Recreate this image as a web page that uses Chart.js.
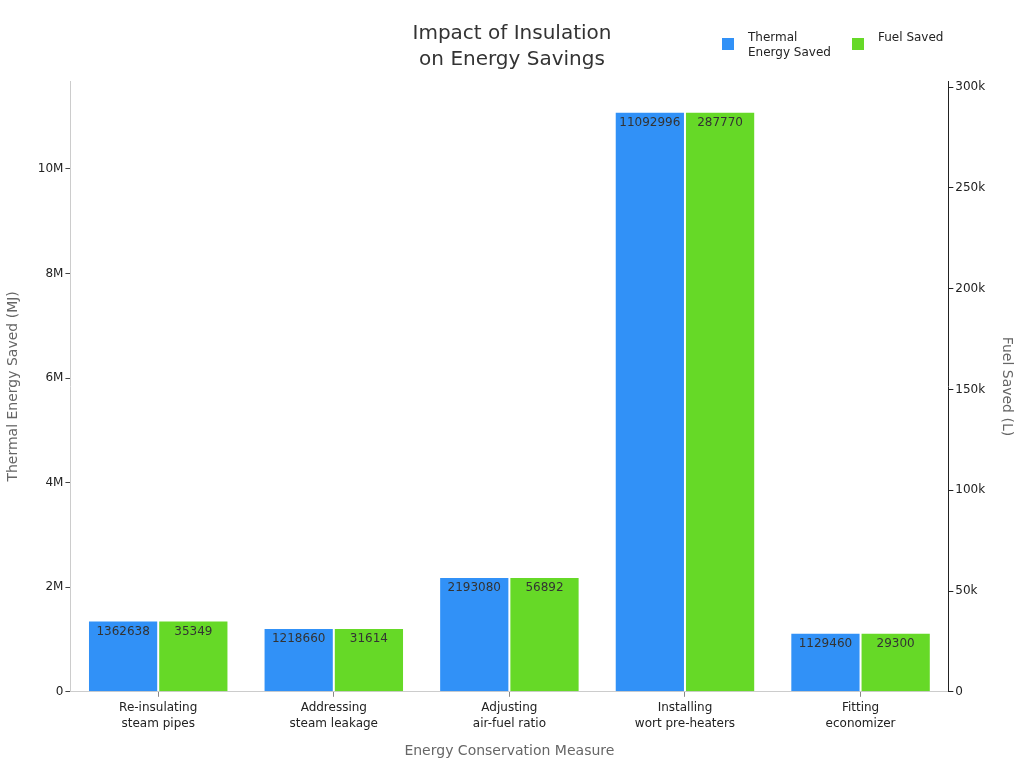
<!DOCTYPE html>
<html><head><meta charset="utf-8">
<script src="https://cdn.jsdelivr.net/npm/chart.js@4/dist/chart.umd.min.js"></script>
<style>html,body{margin:0;padding:0;background:#fff}#wrap{width:1024px;height:768px}</style>
</head><body><div id="wrap"><canvas id="c" width="1024" height="768"></canvas></div>
<script>
const categories = [["Re-insulating","steam pipes"],["Addressing","steam leakage"],["Adjusting","air-fuel ratio"],["Installing","wort pre-heaters"],["Fitting","economizer"]];
const thermalEnergySaved = [1362638, 1218660, 2193080, 11092996, 1129460];
const fuelSaved = [35349, 31614, 56892, 287770, 29300];
const leftTickValues = [0, 2000000, 4000000, 6000000, 8000000, 10000000];
const leftTickLabels = ["0", "2M", "4M", "6M", "8M", "10M"];
const rightTickValues = [0, 50000, 100000, 150000, 200000, 250000, 300000];
const rightTickLabels = ["0", "50k", "100k", "150k", "200k", "250k", "300k"];
const seriesNames = [["Thermal","Energy Saved"], ["Fuel Saved"]];
const seriesColors = ["#3191f7", "#66d927"];
const titleLines = ["Impact of Insulation", "on Energy Savings"];
const xTitle = "Energy Conservation Measure";
const yTitle = "Thermal Energy Saved (MJ)";
const y1Title = "Fuel Saved (L)";

const FONT = "'DejaVu Sans', sans-serif";

const labelPlugin = {
  id: 'valueLabels',
  afterDatasetsDraw(chart) {
    const ctx = chart.ctx;
    ctx.save();
    ctx.font = "12px " + FONT;
    ctx.fillStyle = "#333";
    ctx.textAlign = "center";
    ctx.textBaseline = "middle";
    chart.data.datasets.forEach((ds, di) => {
      const meta = chart.getDatasetMeta(di);
      meta.data.forEach((el, i) => {
        ctx.fillText(String(ds.data[i]), el.x, el.y + 11);
      });
    });
    ctx.restore();
  }
};

const headerPlugin = {
  id: 'header',
  afterDraw(chart) {
    const ctx = chart.ctx;
    ctx.save();
    ctx.fillStyle = "#333";
    ctx.font = "20px " + FONT;
    ctx.textAlign = "center";
    ctx.textBaseline = "middle";
    ctx.fillText(titleLines[0], 512, 34);
    ctx.fillText(titleLines[1], 512, 60);
    // legend
    ctx.font = "12px " + FONT;
    ctx.textAlign = "left";
    const items = [{x: 722, tx: 748}, {x: 852, tx: 878}];
    items.forEach((it, i) => {
      ctx.fillStyle = seriesColors[i];
      ctx.fillRect(it.x, 38, 12, 12);
      ctx.fillStyle = "#222";
      seriesNames[i].forEach((line, k) => {
        ctx.fillText(line, it.tx, 38 + k * 15);
      });
    });
    ctx.restore();
  }
};

function setTicks(values) {
  return function (scale) { scale.ticks = values.map(v => ({ value: v })); };
}

new Chart(document.getElementById('c'), {
  type: 'bar',
  data: {
    labels: categories,
    datasets: [
      { label: seriesNames[0].join(' '), data: thermalEnergySaved, backgroundColor: seriesColors[0], borderColor: '#fff', borderWidth: 1, yAxisID: 'y' },
      { label: seriesNames[1].join(' '), data: fuelSaved, backgroundColor: seriesColors[1], borderColor: '#fff', borderWidth: 1, yAxisID: 'y1' }
    ]
  },
  options: {
    responsive: false,
    animation: false,
    devicePixelRatio: 1,
    categoryPercentage: 0.8,
    barPercentage: 1.0,
    layout: { padding: { top: 81, left: 2, right: 4, bottom: 8 } },
    plugins: { legend: { display: false }, title: { display: false }, tooltip: { enabled: false } },
    scales: {
      x: {
        grid: { display: true, offset: false, drawOnChartArea: false, tickLength: 5, color: '#888' },
        border: { display: true, color: '#ccc' },
        ticks: { font: { family: FONT, size: 12, lineHeight: 1.35 }, color: '#222', maxRotation: 0, padding: 3 },
        title: { display: true, text: xTitle, font: { family: FONT, size: 14 }, color: '#666', padding: { top: 8, bottom: 0 } }
      },
      y: {
        position: 'left',
        min: 0, max: 11680000,
        afterBuildTicks: setTicks(leftTickValues),
        grid: { display: true, drawOnChartArea: false, tickLength: 5, color: '#444' },
        border: { display: true, color: '#ccc' },
        ticks: { font: { family: FONT, size: 12 }, color: '#222', padding: 2,
          callback: (v, i) => leftTickLabels[leftTickValues.indexOf(v)] },
        title: { display: true, text: yTitle, font: { family: FONT, size: 14 }, color: '#666', padding: { top: 3, bottom: 14 } }
      },
      y1: {
        position: 'right',
        min: 0, max: 303000,
        afterBuildTicks: setTicks(rightTickValues),
        grid: { display: true, drawOnChartArea: false, tickLength: 5, color: '#222' },
        border: { display: true, color: '#222' },
        ticks: { font: { family: FONT, size: 12 }, color: '#222', padding: 2,
          callback: (v, i) => rightTickLabels[rightTickValues.indexOf(v)] },
        title: { display: true, text: y1Title, font: { family: FONT, size: 14 }, color: '#666', padding: { top: 5, bottom: 11 } }
      }
    }
  },
  plugins: [labelPlugin, headerPlugin]
});
</script></body></html>
